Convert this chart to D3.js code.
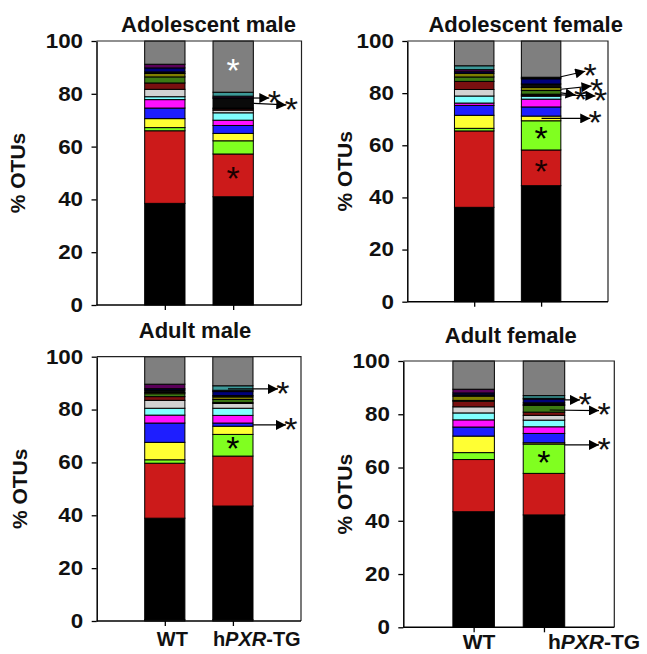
<!DOCTYPE html>
<html>
<head>
<meta charset="utf-8">
<script src="https://cdn.jsdelivr.net/npm/d3@7"></script>
<style>
  body { margin: 0; background: #fff; }
  svg { display: block; }
  text { font-family: Arial, "Liberation Sans", Helvetica, sans-serif; }
</style>
</head>
<body>
<svg id="chart" width="647" height="654"></svg>
<script>
// ---------------- DATA ----------------
const groups = ["WT", "hPXR-TG"];
const yTicks = [0, 20, 40, 60, 80, 100];
const panelTitles = ["Adolescent male", "Adolescent female", "Adult male", "Adult female"];

// stacked taxa, bottom -> top
const taxa = ["Base", "Taxon 1", "Taxon 2", "Taxon 3", "Taxon 4", "Taxon 5", "Taxon 6", "Taxon 7",
              "Taxon 8", "Taxon 9", "Taxon 10", "Taxon 11", "Taxon 12", "Taxon 13", "Taxon 14", "Taxon 15", "Other"];
const taxaColors = ["#c0c0c0", "#000000", "#cc1a1a", "#80ff20", "#ffff33", "#1e1eff", "#ff10ff", "#80ffff",
                    "#d2d2d2", "#7a1010", "#3c7a14", "#7f7f00", "#0a0a0a", "#00007a", "#5a005a", "#3d9999", "#7f7f7f"];

// % OTUs per taxon (same order as taxa)
const adolescentMaleWT   = [0, 38.5, 27.5, 1.2, 3.4, 4.0, 3.2, 1.1, 2.8, 2.4, 2.3, 1.3, 0.6, 1.5, 1.4, 0.0, 8.8];
const adolescentMaleTG   = [0, 41.0, 16.2, 5.0, 2.8, 3.0, 2.0, 2.8, 1.0, 0.5, 0.3, 0.0, 3.7, 0.2, 0.6, 1.5, 19.4];
const adolescentFemaleWT = [0, 36.2, 29.3, 1.0, 5.0, 3.8, 0.9, 2.7, 2.5, 3.1, 1.7, 1.4, 0.0, 0.6, 0.8, 1.5, 9.5];
const adolescentFemaleTG = [0, 44.5, 13.7, 11.2, 1.8, 3.5, 3.0, 1.1, 0.4, 0.4, 1.4, 1.2, 1.3, 2.0, 0.3, 0.3, 13.9];
const adultMaleWT        = [0.5, 38.4, 20.8, 1.3, 6.6, 7.3, 3.0, 2.6, 3.0, 1.4, 1.1, 0.5, 0.9, 0.5, 1.7, 0.0, 10.4];
const adultMaleTG        = [0.5, 43.0, 18.9, 8.2, 3.1, 1.2, 2.9, 2.7, 1.8, 0.4, 1.1, 1.0, 0.5, 1.5, 0.5, 1.7, 11.0];
const adultFemaleWT      = [0, 43.4, 19.6, 2.6, 6.2, 3.4, 2.7, 2.6, 2.3, 2.1, 0.3, 1.6, 0.5, 0.7, 1.4, 0.0, 10.6];
const adultFemaleTG      = [0, 42.2, 15.6, 11.0, 0.5, 3.5, 2.5, 2.5, 1.8, 1.2, 2.5, 0.4, 0.6, 1.4, 0.3, 1.0, 13.0];

// significance marks inside hPXR-TG bars: [taxon index, colour]
const adolescentMaleStars   = [[16, "#ffffff"], [2, "#1a0000"]];
const adolescentFemaleStars = [[3, "#000000"], [2, "#1a0000"]];
const adultMaleStars        = [[3, "#000000"]];
const adultFemaleStars      = [[3, "#000000"]];

// significance arrows (value at start, value at tip)
const adolescentMaleArrows   = [[78.4, 78.4], [76.4, 75.8]];
const adolescentFemaleArrows = [[86.3, 88.4], [81.5, 82.7], [80.1, 79.3], [79.3, 78.9], [70.3, 70.3]];
const adultMaleArrows        = [[87.8, 87.8], [74.2, 74.2]];
const adultFemaleArrows      = [[85.4, 85.4], [81.6, 81.4], [68.5, 68.5]];

// ---------------- LAYOUT ----------------
const panels = [
  { title: panelTitles[0], data: [adolescentMaleWT, adolescentMaleTG], stars: adolescentMaleStars, arrows: adolescentMaleArrows,
    l: 96.5, r: 301.5, t: 41, b: 305, titleX: 208.5, titleY: 31.5, ylabX: 25,
    arrowX: [[0, 16], [0, 33]], xlab: null },
  { title: panelTitles[1], data: [adolescentFemaleWT, adolescentFemaleTG], stars: adolescentFemaleStars, arrows: adolescentFemaleArrows,
    l: 407.3, r: 608, t: 41, b: 301.7, titleX: 525.7, titleY: 31.5, ylabX: 352,
    arrowX: [[0, 24.4], [0, 30.7], [0, 14.7], [0, 34.7], [-19.3, 29.4]], xlab: null },
  { title: panelTitles[2], data: [adultMaleWT, adultMaleTG], stars: adultMaleStars, arrows: adultMaleArrows,
    l: 96.7, r: 301, t: 356.7, b: 621, titleX: 195, titleY: 338.3, ylabX: 27,
    arrowX: [[-25, 25], [0, 33]], xlab: { y: 646, dx: [-8, -20], size: 20 } },
  { title: panelTitles[3], data: [adultFemaleWT, adultFemaleTG], stars: adultFemaleStars, arrows: adultFemaleArrows,
    l: 403.3, r: 614.3, t: 361, b: 627.3, titleX: 510.8, titleY: 343.3, ylabX: 352,
    arrowX: [[0, 15.3], [-15, 34.3], [0, 34.3]], xlab: { y: 649, dx: [-11, 4], size: 21 } }
];

const svg = d3.select("#chart");
svg.append("rect").attr("width", 647).attr("height", 654).attr("fill", "#fff");

const defs = svg.append("defs");
defs.append("marker")
  .attr("id", "arrowhead")
  .attr("viewBox", "0 0 10 10")
  .attr("refX", 10).attr("refY", 5)
  .attr("markerUnits", "userSpaceOnUse")
  .attr("markerWidth", 12).attr("markerHeight", 10)
  .attr("orient", "auto")
  .append("path").attr("d", "M0,0 L10,5 L0,10 Z").attr("fill", "#000");

const starSize = 34;
const starShift = starSize * 0.44;

panels.forEach(p => {
  const g = svg.append("g");
  const x = d3.scalePoint().domain(groups).range([p.l, p.r]).padding(1);
  const barW = x.step() * 0.59;
  const y = d3.scaleLinear().domain([0, 100]).range([p.b, p.t]);

  const rows = groups.map((grp, gi) => {
    const o = { group: grp };
    taxa.forEach((t, ti) => { o[t] = p.data[gi][ti]; });
    return o;
  });
  const stacked = d3.stack().keys(taxa)(rows);

  // bars
  g.selectAll("g.layer").data(stacked).join("g")
    .attr("class", "layer")
    .attr("fill", (d, i) => taxaColors[i])
    .selectAll("rect")
    .data(d => d.filter(s => s[1] - s[0] > 0))
    .join("rect")
    .attr("x", d => x(d.data.group) - barW / 2)
    .attr("width", barW)
    .attr("y", d => y(d[1]))
    .attr("height", d => y(d[0]) - y(d[1]))
    .attr("stroke", "#000")
    .attr("stroke-width", 1);

  // frame (top & right)
  g.append("path")
    .attr("d", `M${p.l},${p.t}H${p.r}V${p.b}`)
    .attr("fill", "none").attr("stroke", "#222").attr("stroke-width", 1.2);

  // y axis
  const ya = g.append("g").attr("transform", `translate(${p.l},0)`)
    .call(d3.axisLeft(y).tickValues(yTicks).tickSize(5).tickPadding(7).tickSizeOuter(0));
  ya.select(".domain").attr("stroke", "#000").attr("stroke-width", 1.5);
  ya.selectAll(".tick line").attr("stroke", "#000").attr("stroke-width", 1.3);
  ya.selectAll(".tick text")
    .attr("font-family", "Arial, 'Liberation Sans', sans-serif")
    .attr("font-size", 20).attr("font-weight", "bold").attr("fill", "#111")
    .attr("transform", "scale(1.12,1)");

  // x axis
  const xa = g.append("g").attr("transform", `translate(0,${p.b})`)
    .call(d3.axisBottom(x).tickSize(5).tickSizeOuter(0).tickFormat(""));
  xa.select(".domain").attr("stroke", "#000").attr("stroke-width", 1.5)
    .attr("d", `M${p.l},0H${p.r}`);
  xa.selectAll(".tick line").attr("stroke", "#000").attr("stroke-width", 1.3);

  // title
  g.append("text").attr("x", p.titleX).attr("y", p.titleY)
    .attr("text-anchor", "middle").attr("font-size", 22).attr("font-weight", "bold")
    .attr("fill", "#111").text(p.title);

  // y label
  g.append("text")
    .attr("transform", `translate(${p.ylabX},${(p.t + p.b) / 2}) rotate(-90)`)
    .attr("text-anchor", "middle").attr("font-size", 21).attr("font-weight", "bold")
    .attr("fill", "#111").text("% OTUs");

  // x labels
  if (p.xlab) {
    groups.forEach((grp, gi) => {
      const t = g.append("text")
        .attr("x", x(grp) + p.xlab.dx[gi]).attr("y", p.xlab.y)
        .attr("text-anchor", "start").attr("font-size", p.xlab.size).attr("font-weight", "bold")
        .attr("fill", "#111");
      if (grp === "WT") {
        t.text("WT");
      } else {
        t.append("tspan").text("h");
        t.append("tspan").attr("font-style", "italic").text("PXR");
        t.append("tspan").text("-TG");
      }
    });
  }

  // stars inside TG bar
  p.stars.forEach(([ti, col]) => {
    const seg = stacked[ti][1];
    const cy = y((seg[0] + seg[1]) / 2);
    g.append("text").attr("x", x(groups[1])).attr("y", cy + starShift)
      .attr("text-anchor", "middle").attr("font-size", starSize).attr("fill", col)
      .text("*");
  });

  // arrows from TG bar
  const right = x(groups[1]) + barW / 2;
  p.arrows.forEach(([v0, v1], i) => {
    const [dx0, dx1] = p.arrowX[i];
    const x0 = right + dx0, x1 = right + dx1;
    g.append("line")
      .attr("x1", x0).attr("y1", y(v0)).attr("x2", x1).attr("y2", y(v1))
      .attr("stroke", "#000").attr("stroke-width", 1.2)
      .attr("marker-end", "url(#arrowhead)");
    g.append("text").attr("x", x1 + 5).attr("y", y(v1) + 1 + starShift)
      .attr("text-anchor", "middle").attr("font-size", starSize).attr("fill", "#111")
      .text("*");
  });
});
</script>
</body>
</html>
